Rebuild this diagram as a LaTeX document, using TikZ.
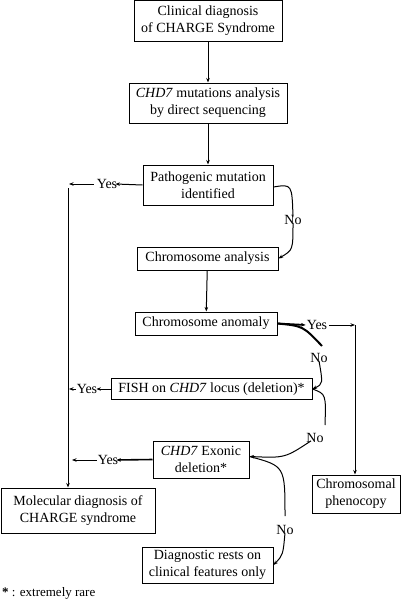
\documentclass[tikz,border=0pt]{standalone}
\usepackage{fontspec}
\setmainfont{Liberation Serif}
\usetikzlibrary{arrows.meta}
\tikzset{
  box/.style={draw, line width=1pt, align=center, inner sep=0pt, font=\fontsize{14}{17}\selectfont},
  lbl/.style={inner sep=0pt, font=\fontsize{14}{17}\selectfont},
  conn/.style={line width=1pt, -{Stealth[length=4.5pt,width=3.5pt]}},
  plain/.style={line width=1pt},
  heavy/.style={line width=2pt},
}
\begin{document}
\begin{tikzpicture}[x=1pt,y=-1pt]
\useasboundingbox (0,0) rectangle (404,602);
\node[box, minimum width=148pt, minimum height=41pt] (b1) at (208,21) {Clinical diagnosis\\of CHARGE Syndrome};
\node[box, minimum width=158pt, minimum height=40pt] (b2) at (208,103) {\textit{CHD7} mutations analysis\\by direct sequencing};
\node[box, minimum width=130pt, minimum height=40pt] (b3) at (208,185) {Pathogenic mutation\\identified};
\node[box, minimum width=141pt, minimum height=23pt] (b4) at (207.5,258.5) {Chromosome analysis};
\node[box, minimum width=142pt, minimum height=23pt] (b5) at (206,323.5) {Chromosome anomaly};
\node[box, minimum width=201pt, minimum height=21pt] (b6) at (211.5,389) {FISH on \textit{CHD7} locus (deletion)*};
\node[box, minimum width=96pt, minimum height=37pt] (b7) at (201,459.5) {\textit{CHD7} Exonic\\deletion*};
\node[box, minimum width=154pt, minimum height=45pt] (b8) at (78,510.5) {Molecular diagnosis of\\CHARGE syndrome};
\node[box, minimum width=88pt, minimum height=38pt] (b9) at (356,494) {Chromosomal\\phenocopy};
\node[box, minimum width=131pt, minimum height=36pt] (b10) at (207.5,565) {Diagnostic rests on\\clinical features only};
\node[anchor=west, inner sep=0pt, font=\fontsize{13}{15}\selectfont] (fn) at (2,593) {\textbf{*} : extremely rare};

% labels
\node[lbl] (yes1) at (107,184) {Yes};
\node[lbl] (no1) at (293,220) {No};
\node[lbl] (yes2) at (317,325) {Yes};
\node[lbl] (no2) at (319,358) {No};
\node[lbl] (yes3) at (87,389) {Yes};
\node[lbl] (no3) at (315,438) {No};
\node[lbl] (yes4) at (108,460) {Yes};
\node[lbl] (no4) at (285,530) {No};

\coordinate (vtop) at (68,188);
\coordinate (rtop) at (355,325);

% main chain
\draw[conn] (b1) -- (b2);
\draw[conn] (b2) -- (b3);
\draw[conn] (b4) -- (b5);

% yes branches on the left
\draw[conn] (b3.west) -- ([xshift=-2pt]yes1.east);
\draw[conn] ([xshift=-3pt]yes1.west) -- (69,184);
\draw[conn] (vtop) -- (vtop |- b8.north);
\draw[conn] (b6.west) -- ([xshift=-1pt]yes3.east);
\draw[conn] ([xshift=-1pt]yes3.west) -- (69,389);
\draw[conn, line width=1.6pt] (b7.west) -- ([xshift=-2pt]yes4.east);
\draw[conn] ([xshift=-1pt]yes4.west) -- (72,460);

% no branches on the right
\draw[plain] ([yshift=-2pt]b3.east) .. controls (292,184) .. ([yshift=-2pt]no1.north);
\draw[conn] ([yshift=2pt]no1.south) .. controls (293,250) .. (b4.east);

\draw[conn, line width=1.8pt] (b5.east) -- ([xshift=-1pt]yes2.west);
\draw[conn] ([xshift=2pt]yes2.east) -- (rtop);
\draw[conn] (rtop) -- (rtop |- b9.north);

\draw[heavy] (b5.east) .. controls (303,326) .. (322,346);
\draw[conn] ([yshift=2pt]no2.south) .. controls (323,384) .. (b6.east);
\draw[plain] (b6.east) .. controls (326,394) .. (325,425);
\draw[conn] ([shift={(-4pt,2pt)}]no3.south) .. controls (285,458) .. ([yshift=3pt]b7.east);
\draw[plain] ([yshift=3pt]b7.east) .. controls (285,466) .. (285,516);
\draw[conn] ([yshift=2pt]no4.south) .. controls (283,555) .. (b10.east);
\end{tikzpicture}
\end{document}
